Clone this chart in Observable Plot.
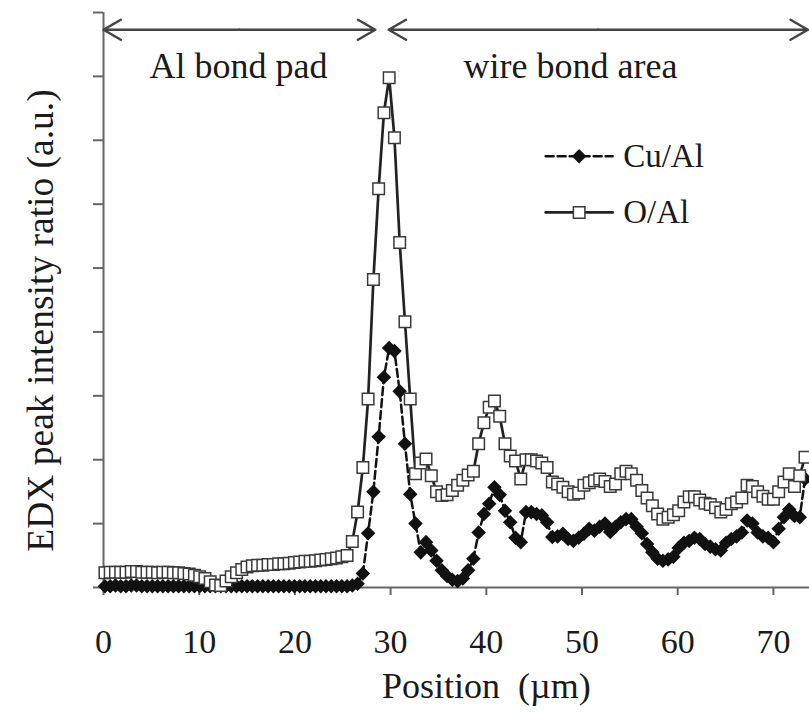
<!DOCTYPE html>
<html><head><meta charset="utf-8">
<script src="https://cdn.jsdelivr.net/npm/d3@7"></script>
<script src="https://cdn.jsdelivr.net/npm/@observablehq/plot@0.6"></script>
<style>
body{margin:0;background:#fff}
#chart svg, #chart svg text{font-family:'Liberation Serif','Times New Roman',serif !important}
</style>
</head><body><div id="chart"></div>
<script>
// Position along the line scan (µm)
const position = [0.15,0.70,1.25,1.80,2.35,2.90,3.45,4.00,4.55,5.10,5.65,6.20,6.75,7.30,7.85,8.40,8.95,9.50,10.05,10.60,
11.15,11.70,12.25,12.80,13.35,13.90,14.45,15.00,15.55,16.10,16.65,17.20,17.75,18.30,18.85,19.40,19.95,20.50,21.05,21.60,
22.15,22.70,23.25,23.80,24.35,24.90,25.45,26.00,26.55,27.10,27.65,28.20,28.75,29.30,29.85,30.40,30.95,31.50,32.05,32.60,
33.15,33.70,34.25,34.80,35.35,35.90,36.45,37.00,37.55,38.10,38.65,39.20,39.75,40.30,40.85,41.40,41.95,42.50,43.05,43.60,
44.15,44.70,45.25,45.80,46.35,46.90,47.45,48.00,48.55,49.10,49.65,50.20,50.75,51.30,51.85,52.40,52.95,53.50,54.05,54.60,
55.15,55.70,56.25,56.80,57.35,57.90,58.45,59.00,59.55,60.10,60.65,61.20,61.75,62.30,62.85,63.40,63.95,64.50,65.05,65.60,
66.15,66.70,67.25,67.80,68.35,68.90,69.45,70.00,70.55,71.10,71.65,72.20,72.75,73.30];

// Cu/Al ratio (a.u.)
const cuAl = [0.02,0.02,0.03,0.02,0.02,0.03,0.03,0.02,0.02,0.02,0.02,0.02,0.02,0.02,0.02,0.02,0.02,0.02,0.02,0.02,
0.02,0.02,0.02,0.02,0.02,0.02,0.02,0.02,0.02,0.02,0.02,0.02,0.02,0.02,0.02,0.02,0.02,0.02,0.02,0.02,
0.02,0.02,0.02,0.02,0.02,0.02,0.02,0.03,0.06,0.22,0.85,1.50,2.36,3.29,3.75,3.70,3.07,2.25,1.46,1.00,
0.55,0.71,0.58,0.42,0.27,0.18,0.12,0.10,0.14,0.27,0.45,0.86,1.15,1.31,1.57,1.45,1.20,1.02,0.78,0.71,
1.18,1.18,1.15,1.13,1.02,0.79,0.80,0.84,0.76,0.73,0.78,0.84,0.92,0.89,0.95,1.00,0.87,0.95,1.02,1.07,
1.07,0.95,0.85,0.68,0.55,0.45,0.42,0.44,0.48,0.62,0.70,0.73,0.78,0.76,0.68,0.64,0.60,0.58,0.70,0.76,
0.80,0.86,1.05,1.00,0.86,0.80,0.78,0.71,0.92,1.10,1.22,1.12,1.10,1.70];

// O/Al ratio (a.u.)
const oAl = [0.23,0.24,0.24,0.24,0.24,0.25,0.25,0.24,0.24,0.24,0.23,0.24,0.24,0.23,0.23,0.22,0.21,0.19,0.17,0.14,
0.09,0.04,0.03,0.10,0.17,0.23,0.28,0.32,0.34,0.35,0.35,0.36,0.36,0.37,0.37,0.38,0.39,0.40,0.41,0.41,
0.42,0.43,0.44,0.45,0.46,0.48,0.50,0.72,1.18,1.88,2.95,4.82,6.24,7.43,7.98,7.04,5.40,4.16,2.95,1.78,
1.95,2.01,1.75,1.50,1.44,1.45,1.52,1.60,1.68,1.76,1.82,2.25,2.58,2.82,2.92,2.68,2.25,2.06,1.98,1.70,
2.00,2.00,1.98,1.95,1.88,1.65,1.62,1.57,1.50,1.46,1.48,1.60,1.64,1.67,1.70,1.66,1.58,1.62,1.78,1.82,
1.78,1.68,1.52,1.40,1.28,1.15,1.07,1.10,1.14,1.20,1.34,1.42,1.42,1.37,1.32,1.30,1.25,1.18,1.22,1.31,
1.34,1.40,1.60,1.58,1.50,1.43,1.38,1.38,1.50,1.65,1.78,1.58,1.75,2.04];

const seriesNames = ["Cu/Al", "O/Al"];
const xTicks = [0, 10, 20, 30, 40, 50, 60, 70];
const yTicks = [0, 1, 2, 3, 4, 5, 6, 7, 8, 9];
const xLabel = "Position\u00a0\u00a0(\u00b5m)";
const yLabel = "EDX peak intensity ratio (a.u.)";
const regionNames = ["Al bond pad", "wire bond area"];
const regionStart = [0, 29.8];
const regionEnd = [28.4, 73.6];
const regionLabelX = [14.1, 48.8];

const cuData = position.map((x, i) => ({x, y: cuAl[i]}));
const oData = position.map((x, i) => ({x, y: oAl[i]}));

const diamond = {
  draw(ctx, size) {
    const r = Math.sqrt(size / 2);
    ctx.moveTo(0, -r); ctx.lineTo(r, 0); ctx.lineTo(0, r); ctx.lineTo(-r, 0); ctx.closePath();
  }
};

// arrows (double-headed => two arrows from the midpoint)
const arrowData = [];
regionStart.forEach((s, i) => {
  const m = (s + regionEnd[i]) / 2;
  arrowData.push({x1: m, x2: s}, {x1: m, x2: regionEnd[i]});
});
const arrowY = 8.73;
const regionLabelY = 8.16;

// legend (in data coordinates)
const legendY = [6.75, 5.87];
const legX1 = 46.2, legX2 = 53.2, legXm = 49.7, legXt = 54.3;

const axisColor = "#666";
const inkColor = "#1a1a1a";
const serif = "Liberation Serif";

const plot = Plot.plot({
  width: 809,
  height: 722,
  marginLeft: 103,
  marginRight: 0,
  marginTop: 12,
  marginBottom: 135,
  x: {domain: [0, 73.77]},
  y: {domain: [0, 9]},
  style: {fontFamily: serif, background: "white", color: inkColor},
  marks: [
    Plot.ruleX([0], {stroke: axisColor, strokeWidth: 2}),
    Plot.ruleY([0], {stroke: axisColor, strokeWidth: 2}),
    Plot.axisY(yTicks, {tickSize: 10, tickFormat: () => "", stroke: axisColor, strokeWidth: 2, label: null}),
    Plot.axisX(xTicks, {tickSize: 8, tickPadding: 33, fontSize: 34, fontFamily: serif, stroke: axisColor, strokeWidth: 2, color: inkColor, label: null}),
    Plot.text([xLabel], {x: 40, frameAnchor: "bottom", dy: 110, fontSize: 36, fontFamily: serif, fill: inkColor}),
    Plot.text([yLabel], {x: 0, y: 4.18, dx: -63, rotate: -90, fontSize: 37.5, fontFamily: serif, fill: inkColor}),
    // region arrows and labels
    Plot.arrow(arrowData, {x1: "x1", x2: "x2", y1: arrowY, y2: arrowY, stroke: "#444", strokeWidth: 2.5, headLength: 12, headAngle: 60}),
    Plot.text(regionNames, {x: (d, i) => regionLabelX[i], y: regionLabelY, fontSize: 36, fontFamily: serif, fill: inkColor}),
    // data
    Plot.line(cuData, {x: "x", y: "y", stroke: "#111", strokeWidth: 2.5, strokeDasharray: "8,4"}),
    Plot.dot(cuData, {x: "x", y: "y", symbol: diamond, r: 5.8, fill: "#111", stroke: "none"}),
    Plot.line(oData, {x: "x", y: "y", stroke: "#222", strokeWidth: 2.7}),
    Plot.dot(oData, {x: "x", y: "y", symbol: "square", r: 6.5, fill: "white", stroke: "#3a3a3a", strokeWidth: 1.5}),
    // legend
    Plot.line([{x: legX1, y: legendY[0]}, {x: legX2, y: legendY[0]}], {x: "x", y: "y", stroke: "#111", strokeWidth: 2.5, strokeDasharray: "8,4"}),
    Plot.dot([{x: legXm, y: legendY[0]}], {x: "x", y: "y", symbol: diamond, r: 5.8, fill: "#111"}),
    Plot.line([{x: legX1, y: legendY[1]}, {x: legX2, y: legendY[1]}], {x: "x", y: "y", stroke: "#222", strokeWidth: 2.7}),
    Plot.dot([{x: legXm, y: legendY[1]}], {x: "x", y: "y", symbol: "square", r: 6.5, fill: "white", stroke: "#3a3a3a", strokeWidth: 1.5}),
    Plot.text(seriesNames, {x: legXt, y: (d, i) => legendY[i], textAnchor: "start", fontSize: 33, fontFamily: serif, fill: inkColor})
  ]
});
document.getElementById("chart").appendChild(plot);
</script>
</body></html>
